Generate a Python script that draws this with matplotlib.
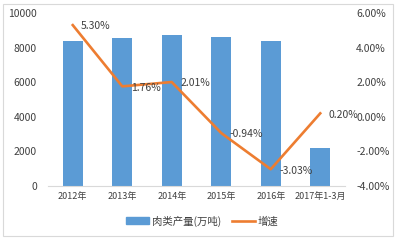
import matplotlib
matplotlib.use("Agg")
import matplotlib.pyplot as plt
from matplotlib.patches import Rectangle, Patch
from matplotlib.lines import Line2D

plt.rcParams['font.family'] = ['Noto Sans CJK SC', 'DejaVu Sans']

categories = ["2012年", "2013年", "2014年", "2015年", "2016年", "2017年1-3月"]
production = [8384, 8536, 8707, 8625, 8364, 2210]
growth = [5.30, 1.76, 2.01, -0.94, -3.03, 0.20]
growth_labels = ["5.30%", "1.76%", "2.01%", "-0.94%", "-3.03%", "0.20%"]
left_ticks = [0, 2000, 4000, 6000, 8000, 10000]
right_ticks = [-4, -2, 0, 2, 4, 6]

W, H = 397, 240
fig = plt.figure(figsize=(W / 100, H / 100), dpi=100)
fig.patches.append(Rectangle((3 / W, 4 / H), 390 / W, 232 / H, transform=fig.transFigure,
                             fill=False, edgecolor='#d9d9d9', linewidth=0.8))

ax = fig.add_axes([48 / W, 1 - 186 / H, (345 - 48) / W, (186 - 13) / H])
x = list(range(len(categories)))
ax.bar(x, production, width=0.4, color='#5B9BD5')
ax.set_xlim(-0.5, len(categories) - 0.5)
ax.set_ylim(0, 10000)
ax.set_yticks(left_ticks)
ax.set_yticklabels([str(t) for t in left_ticks], fontsize=7.5, color='#404040')
ax.set_xticks(x)
ax.set_xticklabels(categories, fontsize=6.5, color='#404040')
ax.tick_params(axis='both', length=0, pad=4)
ax.tick_params(axis='y', pad=8)
for s in ['left', 'right', 'top']:
    ax.spines[s].set_visible(False)
ax.spines['bottom'].set_color('#d9d9d9')

ax2 = ax.twinx()
ax2.plot(x, growth, color='#ED7D31', linewidth=1.9)
ax2.set_ylim(-4, 6)
ax2.set_yticks(right_ticks)
ax2.set_yticklabels([f"{t:.2f}%" for t in right_ticks], fontsize=7.5, color='#404040')
ax2.tick_params(axis='y', length=0, pad=8)
for s in ['left', 'right', 'top', 'bottom']:
    ax2.spines[s].set_visible(False)
for xi, g, lab in zip(x, growth, growth_labels):
    ax2.annotate(lab, (xi, g), xytext=(6, -1), textcoords='offset points',
                 ha='left', va='center', fontsize=7.5, color='#404040')

handles = [Patch(color='#5B9BD5'), Line2D([], [], color='#ED7D31', linewidth=1.9)]
fig.legend(handles, ["肉类产量(万吨)", "增速"], loc='center', bbox_to_anchor=(0.51, 1 - 221 / H),
           ncol=2, frameon=False, fontsize=7.5, handlelength=2.2, handleheight=0.6,
           columnspacing=1.0, handletextpad=0.3, labelcolor='#404040')

fig.savefig("out.png", dpi=100)
